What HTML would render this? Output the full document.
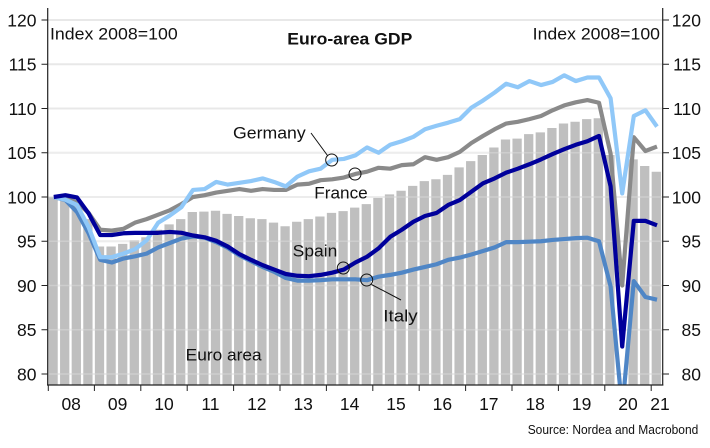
<!DOCTYPE html>
<html>
<head>
<meta charset="utf-8">
<style>
html,body{margin:0;padding:0;background:#fff;}
svg{display:block;}
text{font-family:"Liberation Sans",Arial,sans-serif;fill:#111;}
</style>
</head>
<body>
<svg width="710" height="448" viewBox="0 0 710 448" xmlns="http://www.w3.org/2000/svg">
<defs><clipPath id="plot"><rect x="48" y="0" width="615" height="385"/></clipPath></defs>
<rect width="710" height="448" fill="#fff"/>
<path stroke="#e8e8e8" stroke-width="2" fill="none" d="M48 20H662M48 64.25H662M48 108.5H662M48 152.75H662M48 197H662M48 241.25H662M48 285.5H662M48 329.75H662M48 374H662"/>
<g transform="translate(48 1082) scale(11.6 -8.85)">
<path fill="#bfbfbf" d="M0.04 78.76h0.8V100h-0.8zM1.04 78.76h0.8V99.7h-0.8zM2.04 78.76h0.8V99.2h-0.8zM3.04 78.76h0.8V97.5h-0.8zM4.04 78.76h0.8V94.4h-0.8zM5.04 78.76h0.8V94.4h-0.8zM6.04 78.76h0.8V94.7h-0.8zM7.04 78.76h0.8V95.1h-0.8zM8.04 78.76h0.8V95.45h-0.8zM9.04 78.76h0.8V96.3h-0.8zM10.04 78.76h0.8V96.9h-0.8zM11.04 78.76h0.8V97.5h-0.8zM12.04 78.76h0.8V98.3h-0.8zM13.04 78.76h0.8V98.35h-0.8zM14.04 78.76h0.8V98.45h-0.8zM15.04 78.76h0.8V98.1h-0.8zM16.04 78.76h0.8V97.85h-0.8zM17.04 78.76h0.8V97.6h-0.8zM18.04 78.76h0.8V97.5h-0.8zM19.04 78.76h0.8V97.1h-0.8zM20.04 78.76h0.8V96.7h-0.8zM21.04 78.76h0.8V97.2h-0.8zM22.04 78.76h0.8V97.5h-0.8zM23.04 78.76h0.8V97.8h-0.8zM24.04 78.76h0.8V98.2h-0.8zM25.04 78.76h0.8V98.4h-0.8zM26.04 78.76h0.8V98.8h-0.8zM27.04 78.76h0.8V99.2h-0.8zM28.04 78.76h0.8V99.9h-0.8zM29.04 78.76h0.8V100.3h-0.8zM30.04 78.76h0.8V100.7h-0.8zM31.04 78.76h0.8V101.25h-0.8zM32.04 78.76h0.8V101.8h-0.8zM33.04 78.76h0.8V102h-0.8zM34.04 78.76h0.8V102.5h-0.8zM35.04 78.76h0.8V103.35h-0.8zM36.04 78.76h0.8V104.05h-0.8zM37.04 78.76h0.8V104.75h-0.8zM38.04 78.76h0.8V105.6h-0.8zM39.04 78.76h0.8V106.5h-0.8zM40.04 78.76h0.8V106.6h-0.8zM41.04 78.76h0.8V107.1h-0.8zM42.04 78.76h0.8V107.3h-0.8zM43.04 78.76h0.8V107.8h-0.8zM44.04 78.76h0.8V108.3h-0.8zM45.04 78.76h0.8V108.5h-0.8zM46.04 78.76h0.8V108.8h-0.8zM47.04 78.76h0.8V108.9h-0.8zM48.04 78.76h0.8V104.75h-0.8zM50.04 78.76h0.8V104.25h-0.8zM51.04 78.76h0.8V103.5h-0.8zM52.04 78.76h0.8V102.85h-0.8z"/>
</g>
<path stroke="#fff" stroke-opacity="0.22" stroke-width="1.5" fill="none" d="M48 152.75H662M48 197H662M48 241.25H662M48 285.5H662M48 329.75H662M48 374H662"/>
<g clip-path="url(#plot)">
<g transform="translate(53.8 1082) scale(11.6 -8.85)" fill="none" stroke-width="4.2" stroke-linejoin="round">
<polyline vector-effect="non-scaling-stroke" stroke="#8a8a8a" points="0,100 1,99.9 2,99.4 3,98.2 4,96.3 5,96.2 6,96.4 7,97.1 8,97.5 9,98 10,98.5 11,99.2 12,100 13,100.2 14,100.5 15,100.7 16,100.9 17,100.7 18,100.9 19,100.8 20,100.8 21,101.4 22,101.5 23,101.9 24,102 25,102.2 26,102.6 27,102.86 28,103.3 29,103.2 30,103.6 31,103.7 32,104.5 33,104.2 34,104.5 35,105.1 36,106.1 37,106.9 38,107.65 39,108.3 40,108.5 41,108.8 42,109.15 43,109.8 44,110.35 45,110.7 46,110.95 47,110.65 48,104.9 49,90 50,106.75 51,105.2 52,105.7"/>
<polyline vector-effect="non-scaling-stroke" stroke="#4f86c6" points="0,100 1,99.65 2,98.3 3,95.9 4,92.9 5,92.6 6,93.05 7,93.3 8,93.6 9,94.3 10,94.8 11,95.3 12,95.55 13,95.4 14,94.9 15,94.25 16,93.4 17,92.75 18,92.1 19,91.55 20,90.85 21,90.55 22,90.55 23,90.6 24,90.7 25,90.7 26,90.7 27,90.6 28,91 29,91.2 30,91.45 31,91.8 32,92.1 33,92.4 34,92.9 35,93.15 36,93.5 37,93.9 38,94.3 39,94.9 40,94.9 41,94.95 42,95 43,95.15 44,95.25 45,95.35 46,95.4 47,95 48,89.9 49,76 50,90.5 51,88.7 52,88.4"/>
<polyline vector-effect="non-scaling-stroke" stroke="#90c8f8" points="0,100 1,99.7 2,99.1 3,96.6 4,93.2 5,93.2 6,93.6 7,94.1 8,95.1 9,97.1 10,97.9 11,98.85 12,100.8 13,100.9 14,101.7 15,101.4 16,101.6 17,101.8 18,102.1 19,101.7 20,101.2 21,102.3 22,102.9 23,103.2 24,104.2 25,104.3 26,104.7 27,105.6 28,105 29,105.9 30,106.3 31,106.8 32,107.65 33,108.05 34,108.4 35,108.8 36,110.1 37,110.9 38,111.8 39,112.8 40,112.4 41,113.1 42,112.65 43,113 44,113.75 45,113.1 46,113.5 47,113.5 48,111.15 49,100.4 50,109.15 51,109.8 52,107.95"/>
<polyline vector-effect="non-scaling-stroke" stroke="#00009b" points="0,100 1,100.2 2,99.95 3,98.15 4,95.7 5,95.7 6,95.9 7,95.95 8,95.95 9,95.95 10,96.05 11,95.95 12,95.65 13,95.45 14,95.05 15,94.4 16,93.55 17,92.9 18,92.3 19,91.8 20,91.3 21,91.1 22,91.05 23,91.2 24,91.45 25,91.8 26,92.6 27,93.25 28,94.2 29,95.5 30,96.3 31,97.2 32,97.85 33,98.2 34,99.1 35,99.65 36,100.6 37,101.55 38,102.1 39,102.75 40,103.2 41,103.7 42,104.25 43,104.85 44,105.4 45,105.9 46,106.3 47,106.9 48,101.2 49,83.1 50,97.3 51,97.3 52,96.8"/>
</g>
</g>
<g fill="none" stroke="#111" stroke-width="1">
<circle cx="331.7" cy="160" r="6"/><circle cx="355" cy="174" r="6"/><circle cx="343.3" cy="268" r="6"/><circle cx="366.7" cy="280" r="6"/>
<path d="M311 133L327.5 155.5M371.5 284.5L401 300"/>
</g>
<path stroke="#222" stroke-width="1.2" fill="none" d="M47.7 8V385M662.7 8V385M47 385H663.4"/>
<path stroke="#222" stroke-width="1" fill="none" d="M41.5 20h6.2M41.5 64.25h6.2M41.5 108.5h6.2M41.5 152.75h6.2M41.5 197h6.2M41.5 241.25h6.2M41.5 285.5h6.2M41.5 329.75h6.2M41.5 374h6.2M662.7 20h6.3M662.7 64.25h6.3M662.7 108.5h6.3M662.7 152.75h6.3M662.7 197h6.3M662.7 241.25h6.3M662.7 285.5h6.3M662.7 329.75h6.3M662.7 374h6.3M48.3 385v6M94.4 385v6M140.8 385v6M187.2 385v6M233.6 385v6M280 385v6M326.4 385v6M372.8 385v6M419.2 385v6M465.6 385v6M512 385v6M558.4 385v6M604.8 385v6M651.2 385v6"/>
<g font-size="17.5" text-anchor="end">
<text x="36.5" y="26.3">120</text><text x="36.5" y="70.5">115</text><text x="36.5" y="114.8">110</text><text x="36.5" y="159">105</text><text x="36.5" y="203.3">100</text><text x="36.5" y="247.5">95</text><text x="36.5" y="291.8">90</text><text x="36.5" y="336">85</text><text x="36.5" y="380.3">80</text>
<text x="701" y="26.3">120</text><text x="701" y="70.5">115</text><text x="701" y="114.8">110</text><text x="701" y="159">105</text><text x="701" y="203.3">100</text><text x="701" y="247.5">95</text><text x="701" y="291.8">90</text><text x="701" y="336">85</text><text x="701" y="380.3">80</text>
</g>
<g font-size="17.5" text-anchor="middle">
<text x="71.2" y="410">08</text><text x="117.6" y="410">09</text><text x="164" y="410">10</text><text x="210.4" y="410">11</text><text x="256.8" y="410">12</text><text x="303.2" y="410">13</text><text x="349.6" y="410">14</text><text x="396" y="410">15</text><text x="442.4" y="410">16</text><text x="488.8" y="410">17</text><text x="535.2" y="410">18</text><text x="581.6" y="410">19</text><text x="628" y="410">20</text><text x="660" y="410">21</text>
</g>
<text x="50" y="39.3" font-size="17" textLength="127.7" lengthAdjust="spacingAndGlyphs">Index 2008=100</text>
<text x="532.7" y="39.3" font-size="17" textLength="127.3" lengthAdjust="spacingAndGlyphs">Index 2008=100</text>
<text x="287.3" y="44.3" font-size="17" font-weight="bold" textLength="125" lengthAdjust="spacingAndGlyphs">Euro-area GDP</text>
<g font-size="17">
<text x="233" y="138.3" textLength="72.7" lengthAdjust="spacingAndGlyphs">Germany</text>
<text x="314.3" y="198.3" textLength="53.4" lengthAdjust="spacingAndGlyphs">France</text>
<text x="292.7" y="256.7" textLength="44.6" lengthAdjust="spacingAndGlyphs">Spain</text>
<text x="383.3" y="321.5" textLength="34.4" lengthAdjust="spacingAndGlyphs">Italy</text>
<text x="185.7" y="360.5" textLength="76" lengthAdjust="spacingAndGlyphs">Euro area</text>
</g>
<text x="527.7" y="434" font-size="13" textLength="170.6" lengthAdjust="spacingAndGlyphs">Source: Nordea and Macrobond</text>
</svg>
</body>
</html>
